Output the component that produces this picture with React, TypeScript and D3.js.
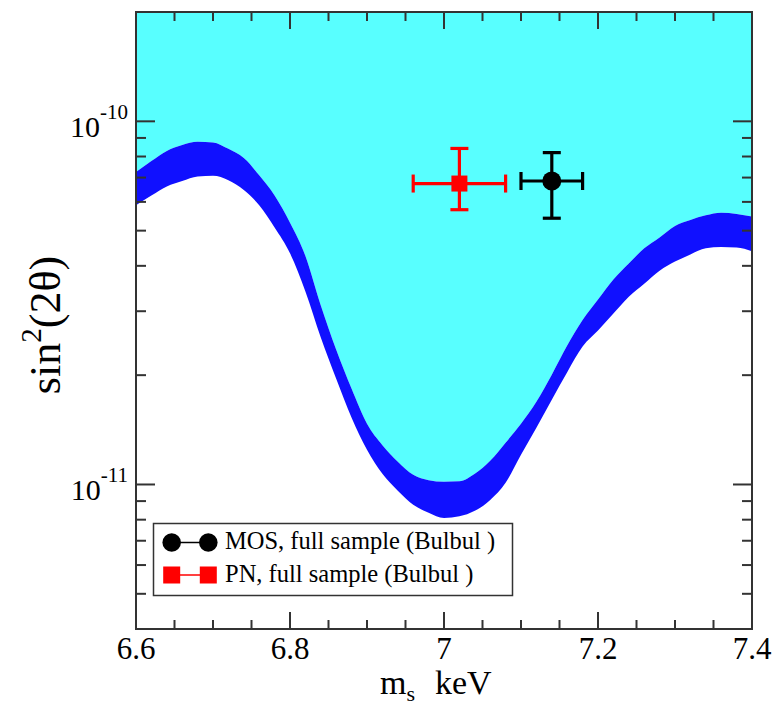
import React, { useRef, useEffect } from 'react';
import * as d3 from 'd3';

// sterile neutrino mass grid (keV)
const massGrid = [
  6.60, 6.62, 6.64, 6.66, 6.68, 6.70, 6.72, 6.74, 6.76, 6.78, 6.80,
  6.82, 6.84, 6.86, 6.88, 6.90, 6.92, 6.94, 6.96, 6.98, 7.00,
  7.02, 7.04, 7.06, 7.08, 7.10, 7.12, 7.14, 7.16, 7.18, 7.20,
  7.22, 7.24, 7.26, 7.28, 7.30, 7.32, 7.34, 7.36, 7.38, 7.40,
];

// band edges, sin^2(2theta) in units of 1e-11
const bandUpper = [
  7.25, 7.77, 8.29, 8.61, 8.79, 8.75, 8.40, 7.92, 7.10, 6.25, 5.26,
  4.26, 3.11, 2.35, 1.835, 1.47, 1.283, 1.155, 1.063, 1.027, 1.017,
  1.020, 1.070, 1.162, 1.303, 1.47, 1.69, 2.006, 2.412, 2.836, 3.23,
  3.67, 4.06, 4.47, 4.79, 5.15, 5.35, 5.51, 5.60, 5.56, 5.47,
];
const bandLower = [
  5.87, 6.25, 6.62, 6.85, 7.05, 7.08, 6.88, 6.47, 5.87, 5.10, 4.33,
  3.40, 2.54, 1.956, 1.527, 1.246, 1.070, 0.961, 0.879, 0.836, 0.809,
  0.817, 0.846, 0.907, 1.011, 1.208, 1.433, 1.712, 2.038, 2.397, 2.653,
  2.955, 3.29, 3.57, 3.88, 4.11, 4.30, 4.47, 4.51, 4.49, 4.39,
];

// data points: MOS (black) and PN (red)
const pointNames = ['MOS, full sample (Bulbul )', 'PN, full sample (Bulbul )'];
const pointMass = [7.14, 7.02];
const pointMassLo = [7.10, 6.96];
const pointMassHi = [7.18, 7.08];
const pointSin = [6.85e-11, 6.74e-11];
const pointSinLo = [5.41e-11, 5.71e-11];
const pointSinHi = [8.2e-11, 8.42e-11];

const xMajorTicks = [6.6, 6.8, 7.0, 7.2, 7.4];
const xTickLabels = ['6.6', '6.8', '7', '7.2', '7.4'];
const yMajorTicks = [1e-11, 1e-10];
const yTickExponents = ['-11', '-10'];

function App() {
  const svgRef = useRef<SVGSVGElement>(null);

  useEffect(() => {
    const width = 773;
    const height = 706;
    const left = 136, right = 752, top = 12, bottom = 629;
    const font = '"Liberation Serif", "Times New Roman", serif';
    const frame = '#333';

    const x = d3.scaleLinear().domain([6.6, 7.4]).range([left, right]);
    const y = d3.scaleLog().domain([4e-12, 2e-10]).range([bottom, top]);

    const svg = d3.select(svgRef.current);
    svg.selectAll('*').remove();
    svg.attr('width', width).attr('height', height).attr('viewBox', [0, 0, width, height].join(' '));

    svg.append('rect').attr('width', width).attr('height', height).attr('fill', 'white');

    svg.append('defs').append('clipPath').attr('id', 'plotclip')
      .append('rect').attr('x', left).attr('y', top)
      .attr('width', right - left).attr('height', bottom - top);

    const band = massGrid.map((m, i) => ({ m, up: bandUpper[i] * 1e-11, lo: bandLower[i] * 1e-11 }));
    const plot = svg.append('g').attr('clip-path', 'url(#plotclip)');

    // excluded region above the band
    plot.append('path')
      .datum(band)
      .attr('fill', '#58ffff')
      .attr('d', d3.area<any>()
        .curve(d3.curveMonotoneX)
        .x(d => x(d.m))
        .y0(d => y(d.up))
        .y1(() => y(2e-10)));

    // uncertainty band
    plot.append('path')
      .datum(band)
      .attr('fill', '#1010ff')
      .attr('d', d3.area<any>()
        .curve(d3.curveMonotoneX)
        .x(d => x(d.m))
        .y0(d => y(d.lo))
        .y1(d => y(d.up)));

    // error bars and markers
    const colors = ['#000', '#ff0000'];
    const cap = 9;
    pointMass.forEach((m, i) => {
      const g = svg.append('g').attr('stroke', colors[i]).attr('stroke-width', 3.2).attr('fill', 'none');
      const cx = x(m), cy = y(pointSin[i]);
      const x0 = x(pointMassLo[i]), x1 = x(pointMassHi[i]);
      const y0 = y(pointSinLo[i]), y1 = y(pointSinHi[i]);
      g.append('line').attr('x1', x0).attr('x2', x1).attr('y1', cy).attr('y2', cy);
      g.append('line').attr('x1', cx).attr('x2', cx).attr('y1', y0).attr('y2', y1);
      g.append('line').attr('x1', x0).attr('x2', x0).attr('y1', cy - cap).attr('y2', cy + cap);
      g.append('line').attr('x1', x1).attr('x2', x1).attr('y1', cy - cap).attr('y2', cy + cap);
      g.append('line').attr('x1', cx - cap).attr('x2', cx + cap).attr('y1', y0).attr('y2', y0);
      g.append('line').attr('x1', cx - cap).attr('x2', cx + cap).attr('y1', y1).attr('y2', y1);
      if (i === 0) {
        svg.append('circle').attr('cx', cx).attr('cy', cy).attr('r', 9.5).attr('fill', colors[i]);
      } else {
        svg.append('rect').attr('x', cx - 8).attr('y', cy - 8).attr('width', 16).attr('height', 16).attr('fill', colors[i]);
      }
    });

    // frame
    svg.append('rect')
      .attr('x', left).attr('y', top)
      .attr('width', right - left).attr('height', bottom - top)
      .attr('fill', 'none').attr('stroke', frame).attr('stroke-width', 2);

    // ticks (inward on all four sides)
    const ticks = svg.append('g').attr('stroke', frame).attr('stroke-width', 2);
    const xMinor = x.ticks(16).filter(v => !xMajorTicks.some(t => Math.abs(t - v) < 1e-6));
    xMajorTicks.forEach(v => {
      ticks.append('line').attr('x1', x(v)).attr('x2', x(v)).attr('y1', bottom).attr('y2', bottom - 17);
      ticks.append('line').attr('x1', x(v)).attr('x2', x(v)).attr('y1', top).attr('y2', top + 17);
    });
    xMinor.forEach(v => {
      ticks.append('line').attr('x1', x(v)).attr('x2', x(v)).attr('y1', bottom).attr('y2', bottom - 9);
      ticks.append('line').attr('x1', x(v)).attr('x2', x(v)).attr('y1', top).attr('y2', top + 9);
    });
    const yAll = y.ticks().filter(v => v > 4.01e-12 && v < 1.99e-10);
    yAll.forEach(v => {
      const major = yMajorTicks.some(t => Math.abs(t - v) / t < 1e-6);
      const len = major ? 19 : 10;
      ticks.append('line').attr('x1', left).attr('x2', left + len).attr('y1', y(v)).attr('y2', y(v));
      ticks.append('line').attr('x1', right).attr('x2', right - len).attr('y1', y(v)).attr('y2', y(v));
    });

    // x tick labels
    svg.append('g')
      .attr('font-family', font).attr('font-size', 31).attr('text-anchor', 'middle').attr('fill', '#000')
      .selectAll('text')
      .data(xMajorTicks)
      .join('text')
      .attr('x', d => x(d))
      .attr('y', 659)
      .text((d, i) => xTickLabels[i]);

    // y tick labels 10^n
    yMajorTicks.forEach((v, i) => {
      const t = svg.append('text')
        .attr('font-family', font).attr('font-size', 30).attr('text-anchor', 'end')
        .attr('x', 128).attr('y', y(v) + 16);
      t.append('tspan').text('10');
      t.append('tspan').attr('font-size', 21).attr('dy', -18).text(yTickExponents[i]);
    });

    // axis titles
    const xt = svg.append('text')
      .attr('font-family', font).attr('font-size', 34)
      .attr('x', 380).attr('y', 694);
    xt.append('tspan').text('m');
    xt.append('tspan').attr('font-size', 22).attr('dy', 7).text('s');
    xt.append('tspan').attr('dy', -7).attr('dx', 20).text('keV');

    const yt = svg.append('text')
      .attr('font-family', font).attr('font-size', 44)
      .attr('text-anchor', 'middle')
      .attr('transform', 'translate(60,325) rotate(-90)');
    yt.append('tspan').text('sin');
    yt.append('tspan').attr('font-size', 29).attr('dy', -19).text('2');
    yt.append('tspan').attr('dy', 19).text('(2θ)');

    // legend
    const lg = svg.append('g');
    lg.append('rect')
      .attr('x', 153.5).attr('y', 523.5).attr('width', 359).attr('height', 72)
      .attr('fill', 'white').attr('stroke', frame).attr('stroke-width', 1.5);
    const rowY = [542.5, 575];
    pointNames.forEach((name, i) => {
      lg.append('line').attr('x1', 171.7).attr('x2', 208.3).attr('y1', rowY[i]).attr('y2', rowY[i])
        .attr('stroke', colors[i]).attr('stroke-width', 1.5);
      [171.7, 208.3].forEach(cx => {
        if (i === 0) {
          lg.append('circle').attr('cx', cx).attr('cy', rowY[i]).attr('r', 9.3).attr('fill', colors[i]);
        } else {
          lg.append('rect').attr('x', cx - 8.5).attr('y', rowY[i] - 8.5).attr('width', 17).attr('height', 17).attr('fill', colors[i]);
        }
      });
      lg.append('text')
        .attr('font-family', font).attr('font-size', 24.5)
        .attr('x', 225).attr('y', rowY[i] + 6.5)
        .text(name);
    });
  }, []);

  return (
    <div style={{ position: 'absolute', left: 0, top: 0 }}>
      <svg ref={svgRef} style={{ display: 'block' }}></svg>
    </div>
  );
}

export default App;
